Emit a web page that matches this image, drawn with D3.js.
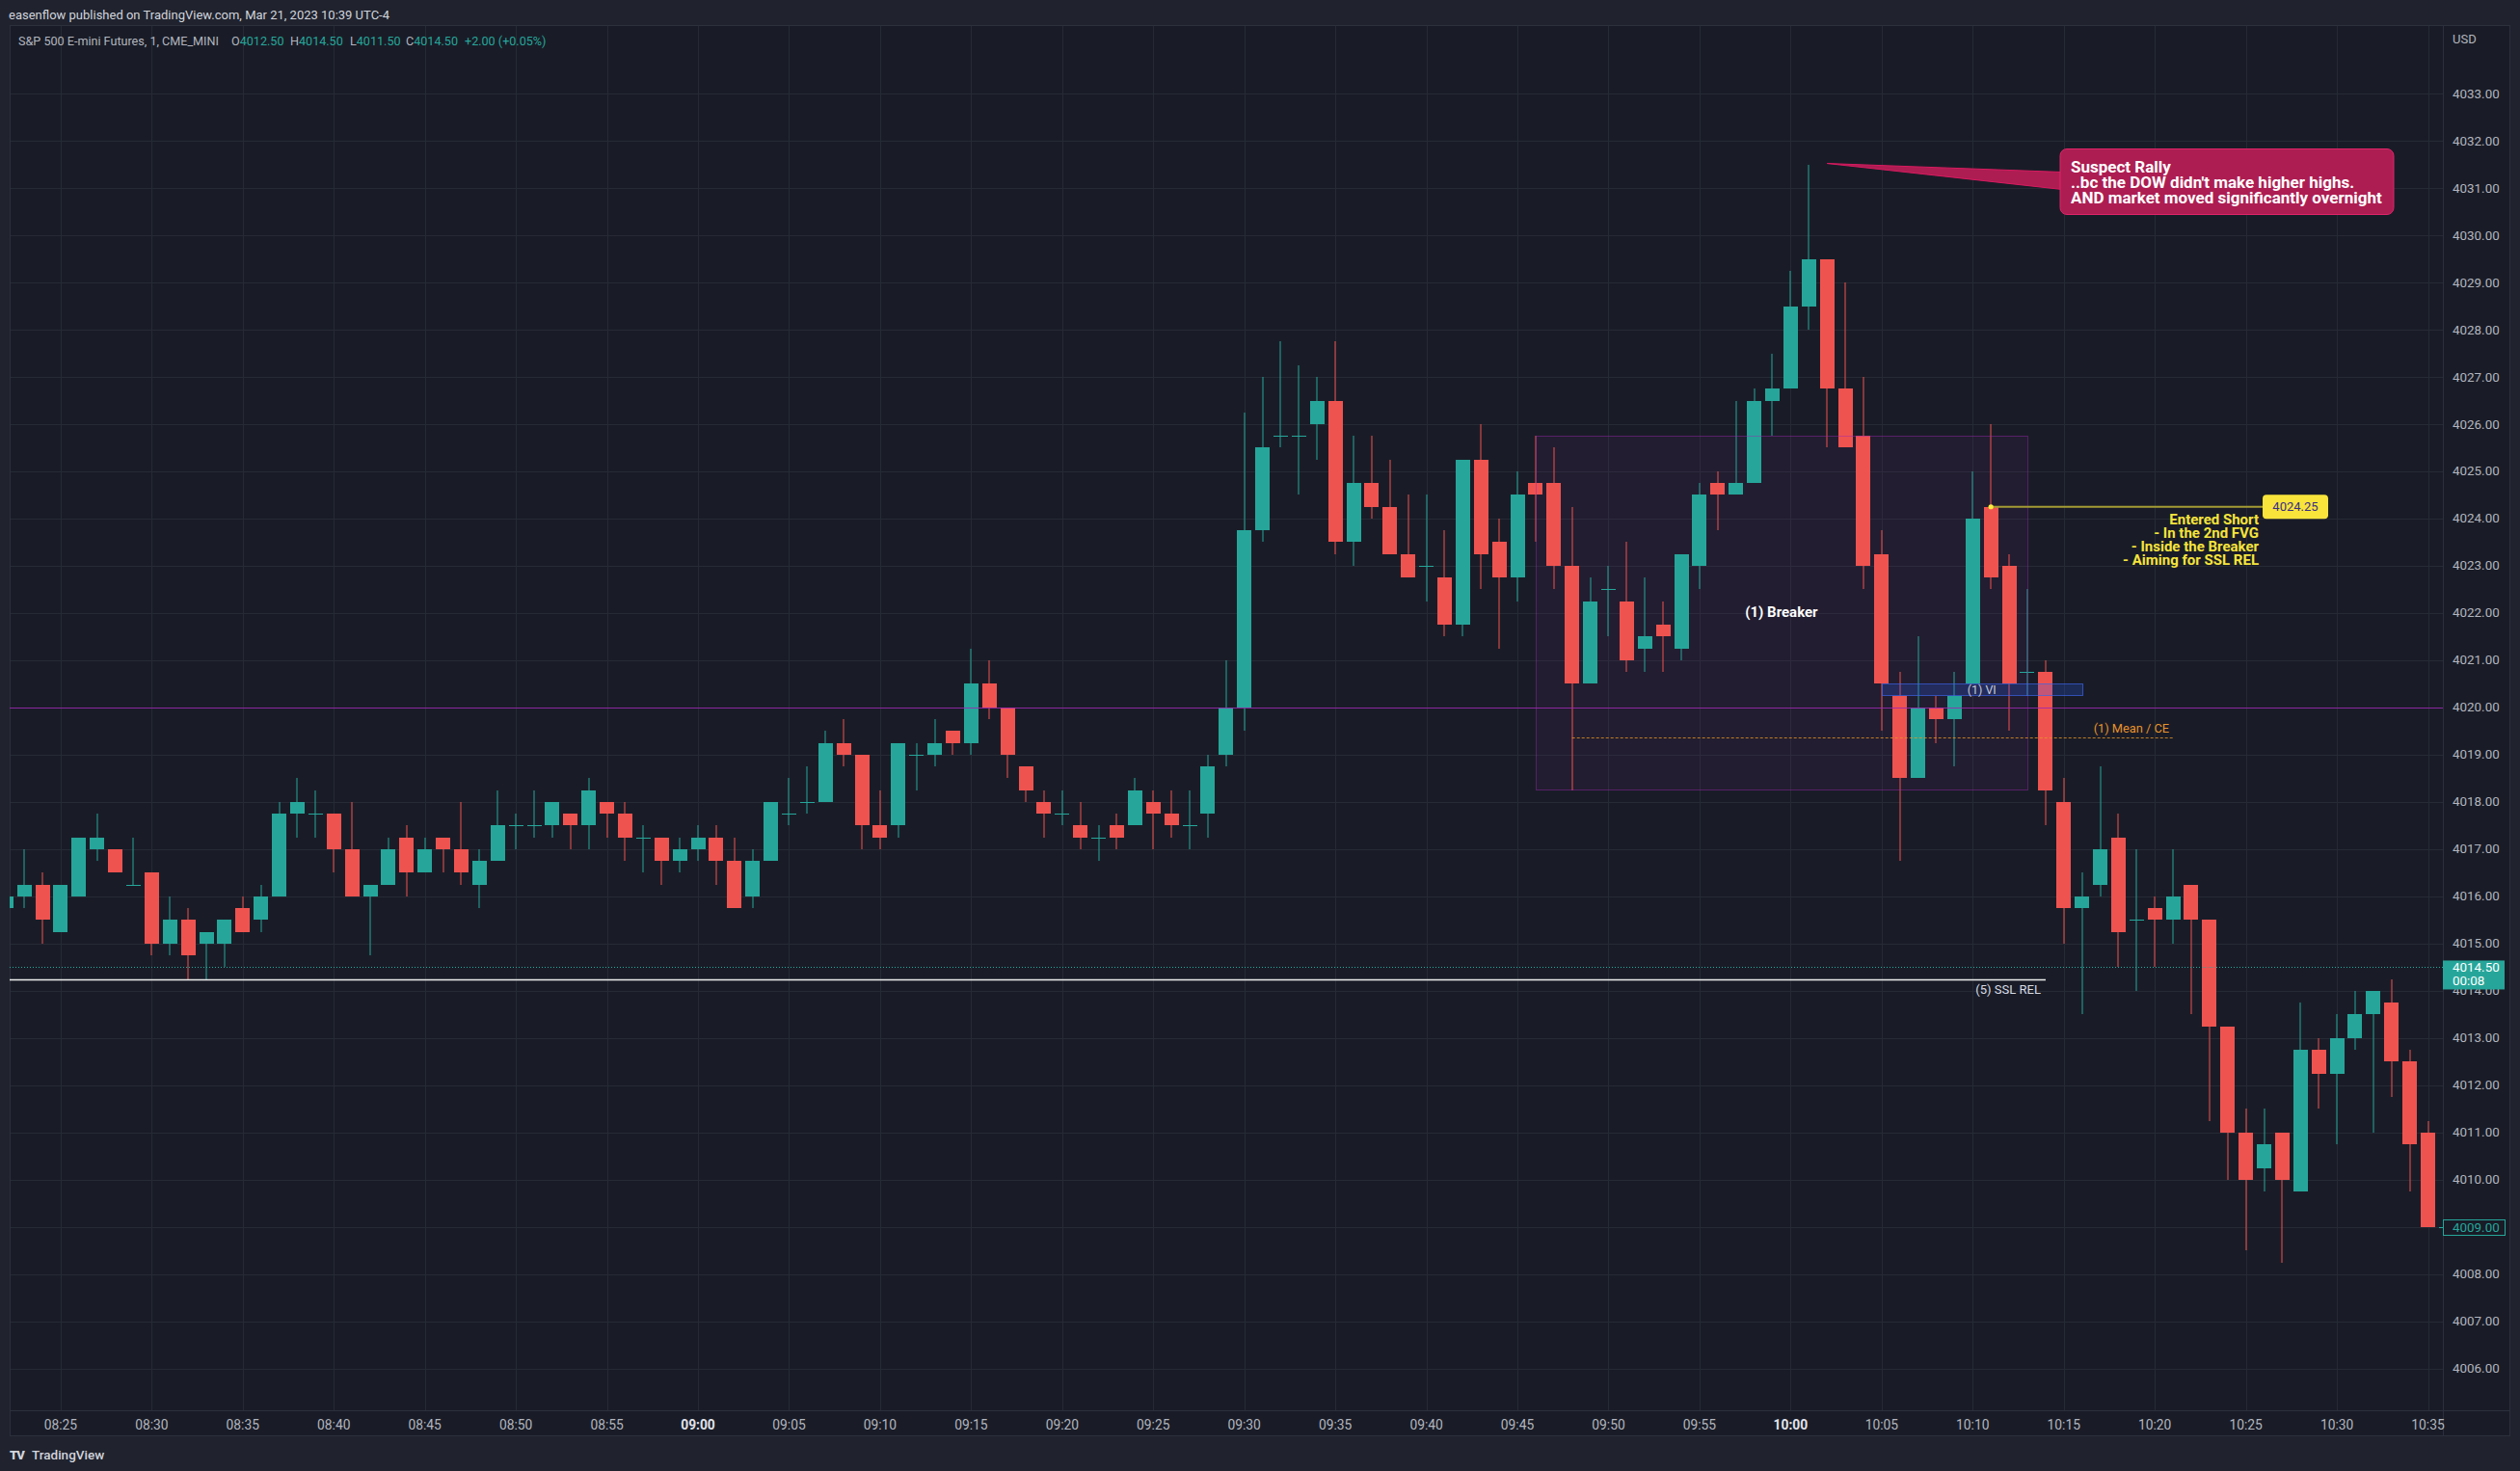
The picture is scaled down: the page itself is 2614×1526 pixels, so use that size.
<!DOCTYPE html>
<html><head><meta charset="utf-8">
<script src="https://cdn.jsdelivr.net/npm/d3@7"></script>
<style>
html,body{margin:0;padding:0;background:#20232e;overflow:hidden;}
svg{display:block;}
text{font-family:Roboto,"Noto Sans",sans-serif;}
</style></head><body>
<svg id="c" width="2614" height="1526"></svg>
<script>
// ---------------- DATA ----------------
const times = [
"08:22","08:23","08:24","08:25","08:26","08:27","08:28","08:29","08:30","08:31",
"08:32","08:33","08:34","08:35","08:36","08:37","08:38","08:39","08:40","08:41",
"08:42","08:43","08:44","08:45","08:46","08:47","08:48","08:49","08:50","08:51",
"08:52","08:53","08:54","08:55","08:56","08:57","08:58","08:59",
"09:00","09:01","09:02","09:03","09:04","09:05","09:06","09:07","09:08","09:09",
"09:10","09:11","09:12","09:13","09:14","09:15","09:16","09:17","09:18","09:19",
"09:20","09:21","09:22","09:23","09:24","09:25","09:26","09:27","09:28","09:29",
"09:30","09:31","09:32","09:33","09:34","09:35","09:36","09:37","09:38","09:39",
"09:40","09:41","09:42","09:43","09:44","09:45","09:46","09:47","09:48","09:49",
"09:50","09:51","09:52","09:53","09:54","09:55","09:56","09:57","09:58","09:59",
"10:00","10:01","10:02","10:03","10:04","10:05","10:06","10:07","10:08","10:09",
"10:10","10:11","10:12","10:13","10:14","10:15","10:16","10:17","10:18","10:19",
"10:20","10:21","10:22","10:23","10:24","10:25","10:26","10:27","10:28","10:29",
"10:30","10:31","10:32","10:33","10:34","10:35"];

const opens = [
4015.75,4016.0,4016.25,4015.25,4016.0,4017.0,4017.0,4016.25,4016.5,4015.0,
4015.5,4015.0,4015.0,4015.75,4015.5,4016.0,4017.75,4017.75,4017.75,4017.0,
4016.0,4016.25,4017.25,4016.5,4017.25,4017.0,4016.25,4016.75,4017.5,4017.5,
4017.5,4017.75,4017.5,4018.0,4017.75,4017.25,4017.25,4016.75,
4017.0,4017.25,4016.75,4016.0,4016.75,4017.75,4018.0,4018.0,4019.25,4019.0,
4017.5,4017.5,4019.0,4019.0,4019.5,4019.25,4020.5,4020.0,4018.75,4018.0,
4017.75,4017.5,4017.25,4017.5,4017.5,4018.0,4017.75,4017.5,4017.75,4019.0,
4020.0,4023.75,4025.75,4025.75,4026.0,4026.5,4023.5,4024.75,4024.25,4023.25,
4023.0,4022.75,4021.75,4025.25,4023.5,4022.75,4024.75,4024.75,4023.0,4020.5,
4022.5,4022.25,4021.25,4021.75,4021.25,4023.0,4024.75,4024.5,4024.75,4026.5,
4026.75,4028.5,4029.5,4026.75,4025.75,4023.25,4020.25,4018.5,4020.0,4019.75,
4020.5,4024.25,4023.0,4020.75,4020.75,4018.0,4015.75,4016.25,4017.25,4015.5,
4015.75,4015.5,4016.25,4015.5,4013.25,4011.0,4010.25,4011.0,4009.75,4012.75,
4012.25,4013.0,4013.5,4013.75,4012.5,4011.0];

const highs = [
4016.25,4017.0,4016.5,4016.25,4017.25,4017.75,4017.0,4017.25,4016.5,4016.0,
4015.75,4015.25,4015.5,4016.0,4016.25,4018.0,4018.5,4018.25,4017.75,4018.0,
4016.25,4017.25,4017.5,4017.25,4017.25,4018.0,4017.0,4018.25,4017.75,4018.25,
4018.0,4017.75,4018.5,4018.0,4018.0,4017.5,4017.25,4017.25,
4017.5,4017.5,4017.25,4017.0,4018.0,4018.5,4018.75,4019.5,4019.75,4019.0,
4018.25,4019.25,4019.25,4019.75,4019.5,4021.25,4021.0,4020.0,4018.75,4018.25,
4018.25,4018.0,4017.5,4017.75,4018.5,4018.25,4018.25,4018.25,4019.0,4021.0,
4026.25,4027.0,4027.75,4027.25,4027.0,4027.75,4025.75,4025.75,4025.25,4024.5,
4024.5,4023.75,4025.25,4026.0,4024.0,4025.0,4025.75,4025.5,4024.25,4022.75,
4023.0,4023.5,4022.75,4022.25,4023.25,4024.75,4025.0,4026.5,4026.75,4027.5,
4029.25,4031.5,4029.5,4029.0,4027.0,4023.75,4020.75,4021.5,4020.25,4020.75,
4025.0,4026.0,4023.25,4022.5,4021.0,4018.5,4016.5,4018.75,4017.75,4017.0,
4016.0,4017.0,4016.25,4015.5,4013.25,4011.5,4011.5,4011.0,4013.75,4013.0,
4013.5,4014.0,4014.0,4014.25,4012.75,4011.25];

const lows = [
4015.5,4015.75,4015.0,4015.25,4016.0,4016.75,4016.5,4016.25,4014.75,4014.75,
4014.25,4014.25,4014.5,4015.25,4015.25,4016.0,4017.25,4017.25,4016.5,4016.0,
4014.75,4016.25,4016.0,4016.5,4016.5,4016.25,4015.75,4016.75,4017.0,4017.25,
4017.25,4017.0,4017.0,4017.25,4016.75,4016.5,4016.25,4016.5,
4016.75,4016.25,4015.75,4015.75,4016.75,4017.5,4017.75,4018.0,4018.75,4017.0,
4017.0,4017.25,4018.25,4018.75,4019.0,4019.0,4019.75,4018.5,4018.0,4017.25,
4017.5,4017.0,4016.75,4017.0,4017.5,4017.0,4017.25,4017.0,4017.25,4018.75,
4019.5,4023.5,4025.5,4024.5,4025.25,4023.25,4023.0,4024.0,4023.25,4022.75,
4022.25,4021.5,4021.5,4022.5,4021.25,4022.25,4023.5,4022.5,4018.25,4020.5,
4021.5,4020.75,4020.75,4020.75,4021.0,4022.5,4023.75,4024.5,4024.75,4025.75,
4026.75,4028.0,4025.5,4025.5,4022.5,4019.5,4016.75,4018.5,4019.25,4018.75,
4020.5,4022.5,4019.5,4020.25,4017.5,4015.0,4013.5,4016.0,4014.5,4014.0,
4014.5,4015.0,4013.5,4011.25,4010.0,4008.5,4009.75,4008.25,4009.75,4011.5,
4010.75,4012.75,4011.0,4011.75,4009.75,4009.0];

const closes = [
4016.0,4016.25,4015.5,4016.25,4017.25,4017.25,4016.5,4016.25,4015.0,4015.5,
4014.75,4015.25,4015.5,4015.25,4016.0,4017.75,4018.0,4017.75,4017.0,4016.0,
4016.25,4017.0,4016.5,4017.0,4017.0,4016.5,4016.75,4017.5,4017.5,4017.5,
4018.0,4017.5,4018.25,4017.75,4017.25,4017.25,4016.75,4017.0,
4017.25,4016.75,4015.75,4016.75,4018.0,4017.75,4018.0,4019.25,4019.0,4017.5,
4017.25,4019.25,4019.0,4019.25,4019.25,4020.5,4020.0,4019.0,4018.25,4017.75,
4017.75,4017.25,4017.25,4017.25,4018.25,4017.75,4017.5,4017.5,4018.75,4020.0,
4023.75,4025.5,4025.75,4025.75,4026.5,4023.5,4024.75,4024.25,4023.25,4022.75,
4023.0,4021.75,4025.25,4023.25,4022.75,4024.5,4024.5,4023.0,4020.5,4022.25,
4022.5,4021.0,4021.5,4021.5,4023.25,4024.5,4024.5,4024.75,4026.5,4026.75,
4028.5,4029.5,4026.75,4025.5,4023.0,4020.5,4018.5,4020.0,4019.75,4020.25,
4024.0,4022.75,4020.5,4020.75,4018.25,4015.75,4016.0,4017.0,4015.25,4015.5,
4015.5,4016.0,4015.5,4013.25,4011.0,4010.0,4010.75,4010.0,4012.75,4012.25,
4013.0,4013.5,4014.0,4012.5,4010.75,4009.0];

const priceTicks = [4006,4007,4008,4009,4010,4011,4012,4013,4014,4015,4016,4017,4018,4019,
  4020,4021,4022,4023,4024,4025,4026,4027,4028,4029,4030,4031,4032,4033];
const timeTicks = ["08:25","08:30","08:35","08:40","08:45","08:50","08:55","09:00","09:05","09:10",
  "09:15","09:20","09:25","09:30","09:35","09:40","09:45","09:50","09:55","10:00","10:05","10:10",
  "10:15","10:20","10:25","10:30","10:35"];
const boldTimes = ["09:00","10:00"];

// annotations (in data units)
const breakerBox = {t0:"09:46", t1:"10:13", p0:4018.25, p1:4025.75, label:"(1) Breaker"};
const viBox = {t0:"10:05", t1:"10:16", p0:4020.25, p1:4020.5, label:"(1) VI"};
const meanLine = {t0:"09:48", t1:"10:21", p:4019.375, label:"(1) Mean / CE"};
const sslLine = {t1:"10:13", p:4014.25, label:"(5) SSL REL"};
const levelLine = 4020.0;
const lastPrice = 4014.5;
const lastClose = 4009.0;
const entry = {t:"10:11", p:4024.25, label:"4024.25"};
const entryText = ["Entered Short","- In the 2nd FVG","- Inside the Breaker","- Aiming for SSL REL"];
const calloutText = ["Suspect Rally","..bc the DOW didn't make higher highs.","AND market moved significantly overnight"];
const calloutTip = {t:"10:01", p:4031.5};
const headerTitle = "easenflow published on TradingView.com, Mar 21, 2023 10:39 UTC-4";
const legendName = "S&P 500 E-mini Futures, 1, CME_MINI";
const legendOHLC = [["O","4012.50"],["H","4014.50"],["L","4011.50"],["C","4014.50"]];
const legendChange = "+2.00 (+0.05%)";

// ---------------- LAYOUT ----------------
const W = 2614, H = 1526;
const pane = {l:10, r:2534, t:26, b:1463};
const axisR = 2604, timeB = 1490;
const UP = "#26a69a", DN = "#ef5350";
const PANE_BG = "#191c27", OUTER = "#20232e", GRID = "#262a35", BORDER = "#2c303c";

const toMin = s => { const [h,m] = s.split(":").map(Number); return (h-9)*60 + m; };

const x = d3.scaleLinear().domain([-37.8, 95.82]).range([pane.l, pane.r]);
const y = d3.scaleLinear().domain([4005.12, 4034.45]).range([pane.b, pane.t]);

const svg = d3.select("#c");
svg.append("rect").attr("width",W).attr("height",H).attr("fill",OUTER);
svg.append("rect").attr("x",pane.l).attr("y",pane.t).attr("width",axisR-pane.l).attr("height",timeB-pane.t)
  .attr("fill",PANE_BG);

const defs = svg.append("defs");
defs.append("clipPath").attr("id","pane").append("rect")
  .attr("x",pane.l).attr("y",pane.t).attr("width",pane.r-pane.l).attr("height",pane.b-pane.t);

// grid
const grid = svg.append("g").attr("clip-path","url(#pane)");
grid.selectAll("line.h").data(priceTicks).join("line")
  .attr("x1",pane.l).attr("x2",pane.r)
  .attr("y1",d=>Math.round(y(d))+0.5).attr("y2",d=>Math.round(y(d))+0.5)
  .attr("stroke",GRID).attr("stroke-width",1);
grid.selectAll("line.v").data(timeTicks).join("line")
  .attr("y1",pane.t).attr("y2",pane.b)
  .attr("x1",d=>Math.round(x(toMin(d)))+0.5).attr("x2",d=>Math.round(x(toMin(d)))+0.5)
  .attr("stroke",GRID).attr("stroke-width",1);

// borders
const bd = svg.append("g").attr("stroke",BORDER).attr("stroke-width",1).attr("fill","none");
bd.append("rect").attr("x",pane.l+0.5).attr("y",pane.t+0.5).attr("width",axisR-pane.l-1).attr("height",timeB-pane.t-1);
bd.append("line").attr("x1",pane.r+0.5).attr("x2",pane.r+0.5).attr("y1",pane.t).attr("y2",timeB);
bd.append("line").attr("x1",pane.l).attr("x2",axisR).attr("y1",pane.b+0.5).attr("y2",pane.b+0.5);

const plot = svg.append("g").attr("clip-path","url(#pane)");

// breaker box fill (behind candles)
const bx0 = x(toMin(breakerBox.t0)), bx1 = x(toMin(breakerBox.t1));
plot.append("rect").attr("x",bx0).attr("y",y(breakerBox.p1)).attr("width",bx1-bx0)
  .attr("height",y(breakerBox.p0)-y(breakerBox.p1)).attr("fill","rgba(156,39,176,0.07)");

// candles
const data = times.map((t,i)=>({m:toMin(t), o:opens[i], h:highs[i], l:lows[i], c:closes[i]}));
const col = d => d.c >= d.o ? UP : DN;
plot.selectAll("rect.wick").data(data).join("rect").attr("class","wick")
  .attr("x",d=>Math.round(x(d.m))-0.5)
  .attr("width",1)
  .attr("y",d=>Math.round(y(d.h)))
  .attr("height",d=>Math.max(1,Math.round(y(d.l))-Math.round(y(d.h))))
  .attr("fill",col);
plot.selectAll("rect.body").data(data).join("rect").attr("class","body")
  .attr("x",d=>Math.round(x(d.m)-7.5))
  .attr("width",15)
  .attr("y",d=>Math.round(y(Math.max(d.o,d.c))))
  .attr("height",d=>Math.max(1,Math.round(y(Math.min(d.o,d.c)))-Math.round(y(Math.max(d.o,d.c)))))
  .attr("fill",col);

// breaker border
plot.append("rect").attr("x",Math.round(bx0)+0.5).attr("y",Math.round(y(breakerBox.p1))+0.5)
  .attr("width",Math.round(bx1-bx0)).attr("height",Math.round(y(breakerBox.p0)-y(breakerBox.p1)))
  .attr("fill","none").attr("stroke","rgba(156,39,176,0.45)").attr("stroke-width",1);
plot.append("text").attr("x",(bx0+bx1)/2).attr("y",y(4022)+4)
  .attr("text-anchor","middle").attr("fill","#ffffff").attr("font-size",15).attr("font-weight",700)
  .text(breakerBox.label);

// 4020 level
plot.append("line").attr("x1",pane.l).attr("x2",pane.r)
  .attr("y1",Math.round(y(levelLine))+0.5).attr("y2",Math.round(y(levelLine))+0.5)
  .attr("stroke","#9c27b0").attr("stroke-opacity",0.85).attr("stroke-width",1);

// VI box
const vx0 = x(toMin(viBox.t0)), vx1 = x(toMin(viBox.t1));
plot.append("rect").attr("x",Math.round(vx0)+0.5).attr("y",Math.round(y(viBox.p1))+0.5)
  .attr("width",Math.round(vx1-vx0)).attr("height",Math.round(y(viBox.p0)-y(viBox.p1)))
  .attr("fill","rgba(41,98,255,0.22)").attr("stroke","rgba(60,100,230,0.7)").attr("stroke-width",1);
plot.append("text").attr("x",(vx0+vx1)/2).attr("y",(y(viBox.p0)+y(viBox.p1))/2+4.5)
  .attr("text-anchor","middle").attr("fill","#c3c8d8").attr("font-size",12.5).text(viBox.label);

// mean / CE
const mx0 = x(toMin(meanLine.t0)), mx1 = x(toMin(meanLine.t1));
plot.append("line").attr("x1",mx0).attr("x2",mx1)
  .attr("y1",Math.round(y(meanLine.p))+0.5).attr("y2",Math.round(y(meanLine.p))+0.5)
  .attr("stroke","#e59425").attr("stroke-opacity",0.8).attr("stroke-width",1).attr("stroke-dasharray","3,2");
plot.append("text").attr("x",mx1-4).attr("y",y(meanLine.p)-5)
  .attr("text-anchor","end").attr("fill","#e8922c").attr("font-size",12.8).text(meanLine.label);

// SSL REL line
const sx1 = x(toMin(sslLine.t1)) + 19;
plot.append("line").attr("x1",pane.l).attr("x2",sx1)
  .attr("y1",Math.round(y(sslLine.p))+0.5).attr("y2",Math.round(y(sslLine.p))+0.5)
  .attr("stroke","#eeeeee").attr("stroke-width",1.3);
plot.append("text").attr("x",sx1-5).attr("y",y(sslLine.p)+15.5)
  .attr("text-anchor","end").attr("fill","#d8dbe3").attr("font-size",13).text(sslLine.label);

// last price dotted line
plot.append("line").attr("x1",pane.l).attr("x2",pane.r)
  .attr("y1",Math.round(y(lastPrice))+0.5).attr("y2",Math.round(y(lastPrice))+0.5)
  .attr("stroke",UP).attr("stroke-width",1).attr("stroke-dasharray","1,2");

// entry
const ex = x(toMin(entry.t)), ey = y(entry.p);
const labX0 = 2347, labW = 68, labH = 25;
plot.append("line").attr("x1",ex).attr("x2",labX0).attr("y1",ey).attr("y2",ey)
  .attr("stroke","#a39b33").attr("stroke-width",2);
plot.append("circle").attr("cx",ex).attr("cy",ey).attr("r",2.6).attr("fill","#ffeb3b");
plot.append("rect").attr("x",labX0).attr("y",ey-12.5).attr("width",labW).attr("height",labH).attr("rx",4)
  .attr("fill","#f9e43b");
plot.append("text").attr("x",labX0+labW/2).attr("y",ey+4.5).attr("text-anchor","middle")
  .attr("fill","#3a2f86").attr("font-size",13).text(entry.label);
plot.append("g").selectAll("text").data(entryText).join("text")
  .attr("x",labX0-4).attr("y",(d,i)=>ey+18+i*14)
  .attr("text-anchor","end").attr("fill","#f6e43c").attr("font-size",15).attr("font-weight",700)
  .text(d=>d);

// callout
const cb = {x:2137, y:154.5, w:346, h:68};
const tipX = x(toMin(calloutTip.t)) + 19, tipY = y(calloutTip.p) - 1;
svg.append("path")
  .attr("d",`M${tipX},${tipY} L${cb.x+2},${cb.y+24} L${cb.x+2},${cb.y+42} Z`)
  .attr("fill","#ad1d52").attr("stroke","#d81b60").attr("stroke-width",1);
svg.append("rect").attr("x",cb.x).attr("y",cb.y).attr("width",cb.w).attr("height",cb.h).attr("rx",7)
  .attr("fill","#ad1d52").attr("stroke","#e0246a").attr("stroke-width",1);
svg.append("rect").attr("x",cb.x+1).attr("y",cb.y+24).attr("width",4).attr("height",18).attr("fill","#ad1d52");
svg.append("g").selectAll("text").data(calloutText).join("text")
  .attr("x",cb.x+11).attr("y",(d,i)=>cb.y+24+i*16)
  .attr("fill","#ffffff").attr("font-size",17).attr("font-weight",700).text(d=>d);

// price axis labels
const ax = svg.append("g");
ax.selectAll("text").data(priceTicks).join("text")
  .attr("x",2544).attr("y",d=>y(d)+4.5).attr("fill","#b2b5be").attr("font-size",13.4)
  .text(d=>d.toFixed(2));
ax.append("text").attr("x",2544).attr("y",45).attr("fill","#b2b5be").attr("font-size",13).text("USD");
// last price label
ax.append("rect").attr("x",pane.r).attr("y",y(lastPrice)-7).attr("width",64).attr("height",30).attr("fill",UP);
ax.append("text").attr("x",2544).attr("y",y(lastPrice)+5).attr("fill","#ffffff").attr("font-size",13.4).text(lastPrice.toFixed(2));
ax.append("text").attr("x",2544).attr("y",y(lastPrice)+19).attr("fill","#ffffff").attr("font-size",13.4).text("00:08");
// last close label
ax.append("rect").attr("x",pane.r+0.5).attr("y",Math.round(y(lastClose))-7.5).attr("width",64).attr("height",16)
  .attr("fill",PANE_BG).attr("stroke",UP).attr("stroke-width",1);
ax.append("line").attr("x1",pane.r-4).attr("x2",pane.r).attr("y1",Math.round(y(lastClose))+0.5).attr("y2",Math.round(y(lastClose))+0.5)
  .attr("stroke",UP);
ax.append("text").attr("x",2544).attr("y",y(lastClose)+5).attr("fill",UP).attr("font-size",13.4).text(lastClose.toFixed(2));

// time axis labels
svg.append("g").selectAll("text").data(timeTicks).join("text")
  .attr("x",d=>x(toMin(d))).attr("y",1482.5).attr("text-anchor","middle")
  .attr("fill",d=>boldTimes.includes(d)?"#e0e3eb":"#b2b5be")
  .attr("font-weight",d=>boldTimes.includes(d)?700:400)
  .attr("font-size",13.8).text(d=>d);

// header
svg.append("text").attr("x",9).attr("y",20).attr("fill","#d1d4dc").attr("font-size",13).text(headerTitle);
const leg = svg.append("text").attr("y",47).attr("font-size",12.6);
leg.append("tspan").attr("x",19).attr("fill","#b2b5be").text(legendName);
const legX = [240,301,363,421];
legendOHLC.forEach((p,i)=>{
  leg.append("tspan").attr("x",legX[i]).attr("fill","#b2b5be").text(p[0]);
  leg.append("tspan").attr("fill",UP).text(p[1]);
});
leg.append("tspan").attr("x",482).attr("fill",UP).text(legendChange);

// footer
const ft = svg.append("g");
ft.append("text").attr("x",10).attr("y",1514).attr("fill","#d1d4dc").attr("font-size",13).attr("font-weight",900)
  .attr("letter-spacing",-1).text("TV");
ft.append("text").attr("x",33).attr("y",1514).attr("fill","#d1d4dc").attr("font-size",13.5).attr("font-weight",500).text("TradingView");
</script>
</body></html>
